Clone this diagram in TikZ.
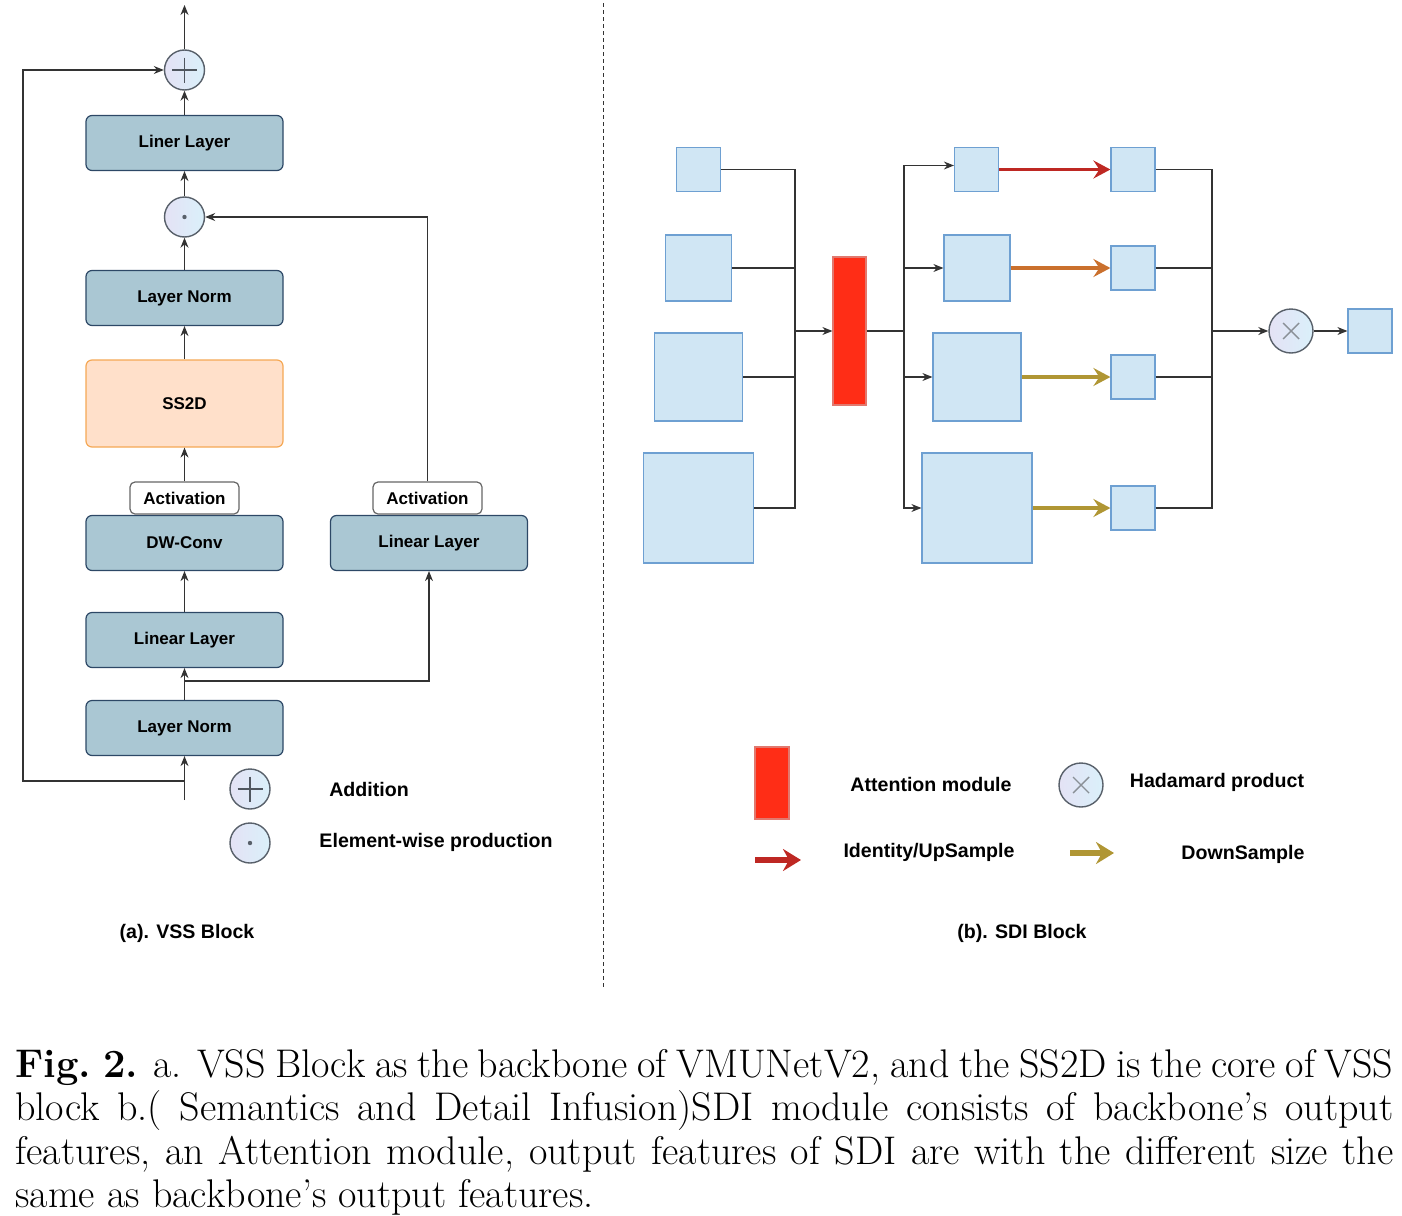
\documentclass[tikz,border=0pt]{standalone}
\usepackage{fontspec}
\usetikzlibrary{arrows.meta}

\newfontfamily\diafont{Liberation Sans}
\newcommand{\boxfont}{\diafont\bfseries\fontsize{8.5}{10}\selectfont}
\newcommand{\legfont}{\diafont\bfseries\fontsize{9.8}{12}\selectfont}

\definecolor{layerfill}{RGB}{170,199,211}
\definecolor{layerdraw}{RGB}{45,72,102}
\definecolor{ssfill}{RGB}{255,224,202}
\definecolor{ssdraw}{RGB}{245,168,85}
\definecolor{featfill}{RGB}{208,230,244}
\definecolor{featdraw}{RGB}{110,160,210}
\definecolor{attfill}{RGB}{255,45,22}
\definecolor{attdraw}{RGB}{225,120,110}
\definecolor{opA}{RGB}{228,226,245}
\definecolor{opB}{RGB}{218,240,250}
\definecolor{opdraw}{RGB}{88,96,106}
\definecolor{upcol}{RGB}{190,40,35}
\definecolor{midcol}{RGB}{202,112,45}
\definecolor{dncol}{RGB}{176,150,52}

\tikzset{
    layer/.style={draw=layerdraw,fill=layerfill,rounded corners=3pt,line width=0.6pt,
        minimum width=98.5pt,minimum height=27.5pt,inner sep=0pt,font=\boxfont},
    ssbox/.style={draw=ssdraw,fill=ssfill,minimum height=43.5pt},
    actbox/.style={draw=black!60,fill=white,rounded corners=2.5pt,line width=0.6pt,
        minimum width=54.5pt,minimum height=16pt,inner sep=0pt,font=\boxfont},
    opcirc/.style={circle,draw=opdraw,line width=0.7pt,left color=opA,right color=opB,
        minimum size=#1,inner sep=0pt},
    opsym/.style={draw=opdraw!90!black,line width=0.7pt},
    addop/.style={opcirc=20pt,path picture={\draw[opsym] (path picture bounding box.center)
        +(-12.5,0) -- +(12.5,0) +(0,-12.5) -- +(0,12.5);}},
    dotop/.style={opcirc=20pt,path picture={\fill[opdraw] (path picture bounding box.center)
        circle (1.1pt);}},
    mulop/.style={opcirc=22pt,path picture={\draw[opsym,draw=opdraw!70] (path picture bounding box.center)
        +(-8,-8) -- +(8,8) +(-8,8) -- +(8,-8);}},
    feat/.style={draw=featdraw,fill=featfill,line width=0.6pt,minimum size=#1,inner sep=0pt},
    attn/.style={draw=attdraw,fill=attfill,line width=0.6pt,minimum width=16.5pt,
        minimum height=74pt,inner sep=0pt},
    conn/.style={draw=black!80,line width=0.55pt},
    tip/.style={-{Stealth[length=5pt,width=4pt]}},
    upar/.style={draw=upcol,line width=1.6pt,-{Stealth[length=8.5pt,width=9pt,inset=3pt]}},
    midar/.style={upar,draw=midcol},
    dnar/.style={upar,draw=dncol},
    leg/.style={font=\legfont,inner sep=0pt}
}

\begin{document}
\begin{tikzpicture}[x=0.5pt,y=-0.5pt]
\useasboundingbox (0,0) rectangle (1402,1215);

% (a) VSS block
\node[layer] (liner) at (184.5,143) {Liner Layer};
\node[layer] (lnB) at (184.5,298) {Layer Norm};
\node[layer,ssbox] (ss2d) at (184.5,403.5) {SS2D};
\node[layer] (dwc) at (184.5,543) {DW-Conv};
\node[actbox] (actA) at (184.5,498) {Activation};
\node[layer] (linA) at (184.5,640) {Linear Layer};
\node[layer] (lnA) at (184.5,728) {Layer Norm};
\node[layer] (linB) at (429,543) {Linear Layer};
\node[actbox] (actB) at (427.5,498) {Activation};
\node[addop] (add) at (184.5,70) {};
\node[dotop] (dot) at (184.5,217) {};

\coordinate (top) at (184.5,5);
\coordinate (inp) at (184.5,800);
\coordinate (skip) at (184.5,781);
\coordinate (corner) at (23,70);
\coordinate (br) at (184.5,681);

\draw[conn,tip] (inp) -- (lnA);
\draw[conn,tip] (lnA) -- (linA);
\draw[conn,tip] (linA) -- (dwc);
\draw[conn,tip] (actA) -- (ss2d);
\draw[conn,tip] (ss2d) -- (lnB);
\draw[conn,tip] (lnB) -- (dot);
\draw[conn,tip] (dot) -- (liner);
\draw[conn,tip] (liner) -- (add);
\draw[conn,tip] (add) -- (top);
\draw[conn,tip] (skip) -| (corner) -- (add);
\draw[conn,tip] (br) -| (linB);
\draw[conn,tip] (actB) |- (dot);

\node[addop] (addkey) at (250,789) {};
\node[dotop] (dotkey) at (250,843) {};
\node[leg] (addtxt) at (369,789) {Addition};
\node[leg] (dottxt) at (436,842) {Element-wise production};
\node[leg] (capA) at (187,933) {(a). VSS Block};

\draw[black!80,line width=0.5pt,dash pattern=on 2pt off 1.5pt] (603,3) -- (603,988);

% (b) SDI block
\node[feat=22pt] (b1) at (698.5,169.5) {};
\node[feat=33pt] (b2) at (698.5,268) {};
\node[feat=44pt] (b3) at (698.5,377) {};
\node[feat=55pt] (b4) at (698.5,508) {};
\node[attn] (att) at (849.5,331) {};
\node[feat=22pt] (m1) at (976.5,169.5) {};
\node[feat=33pt] (m2) at (977,268) {};
\node[feat=44pt] (m3) at (977,377) {};
\node[feat=55pt] (m4) at (977,508) {};
\node[feat=22pt] (o1) at (1133,169.5) {};
\node[feat=22pt] (o2) at (1133,268) {};
\node[feat=22pt] (o3) at (1133,377) {};
\node[feat=22pt] (o4) at (1133,508) {};
\node[mulop] (had) at (1291,331) {};
\node[feat=22pt] (out) at (1370,331) {};

\coordinate (jin) at (795,331);
\coordinate (jout) at (904,331);
\coordinate (jm) at (1212,331);

\foreach \b in {b1,b2,b3,b4}
    \draw[conn] (\b.east) -| (jin);
\draw[conn,tip] (jin) -- (att);
\draw[conn] (att) -- (jout);
\draw[conn,tip] (jout) |- ([yshift=2pt]m1.west);
\foreach \m in {m2,m3,m4}
    \draw[conn,tip] (jout) |- (\m.west);
\draw[upar] (m1) -- (o1);
\draw[midar] (m2) -- (o2);
\draw[dnar] (m3) -- (o3);
\draw[dnar] (m4) -- (o4);
\foreach \o in {o1,o2,o3,o4}
    \draw[conn] (\o.east) -| (jm);
\draw[conn,tip] (jm) -- (had);
\draw[conn,tip] (had) -- (out);

\node[attn,minimum width=17pt,minimum height=36pt] (attkey) at (772,783) {};
\node[leg] (atttxt) at (931,784) {Attention module};
\node[mulop] (mulkey) at (1081,785) {};
\node[leg] (multxt) at (1217,782) {Hadamard product};
\coordinate (upA) at (755,860);
\coordinate (upB) at (801,860);
\draw[upar,line width=2.6pt,-{Stealth[length=9pt,width=11pt,inset=3pt]}] (upA) -- (upB);
\node[leg] (uptxt) at (929,852) {Identity/UpSample};
\coordinate (dnA) at (1070,853);
\coordinate (dnB) at (1114,853);
\draw[dnar,line width=2.6pt,-{Stealth[length=9pt,width=11pt,inset=3pt]}] (dnA) -- (dnB);
\node[leg] (dntxt) at (1243,854) {DownSample};
\node[leg] (capB) at (1022,933) {(b). SDI Block};

% caption
\node[anchor=north west,inner sep=0pt,text width=689pt,align=justify,
    font=\fontsize{20}{21.75}\selectfont] (cap) at (15,1049)
    {\textbf{Fig.~2.} a. VSS Block as the backbone of VMUNetV2, and the SS2D is the core of VSS\linebreak
    block b.( Semantics and Detail Infusion)SDI module consists of backbone's output\linebreak
    features, an Attention module, output features of SDI are with the different size the\linebreak
    same as backbone's output features.};
\end{tikzpicture}
\end{document}
